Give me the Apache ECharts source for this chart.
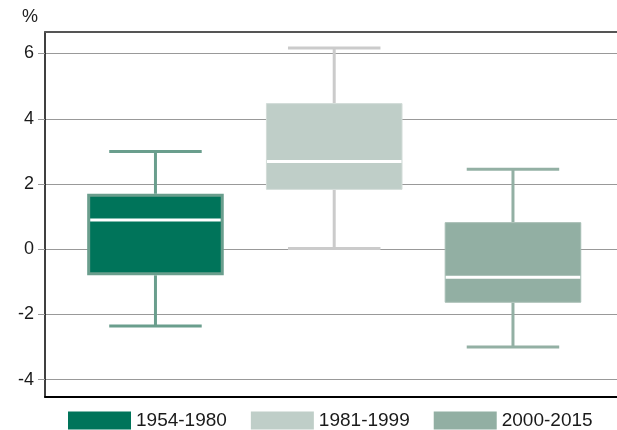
<!DOCTYPE html>
<html>
<head>
<meta charset="utf-8">
<script src="https://cdn.jsdelivr.net/npm/echarts@6/dist/echarts.min.js"></script>
<style>
  html, body { margin: 0; padding: 0; background: #ffffff; }
  #chart { width: 617px; height: 430px; }
</style>
</head>
<body>
<div id="chart"></div>
<script>
// Distribution of annual values per period (%)
const periods = ['1954-1980', '1981-1999', '2000-2015'];
const lowValues = [-2.35, 0.02, -3.0];
const q1Values = [-0.80, 1.82, -1.64];
const medianValues = [0.90, 2.69, -0.86];
const q3Values = [1.70, 4.48, 0.83];
const highValues = [3.0, 6.17, 2.45];
const yTickValues = [-4, -2, 0, 2, 4, 6];

const fillColors = ['#00745a', '#bfcec8', '#92afa3'];
const edgeColors = ['#6a9e8d', '#d2dcd8', '#a5bcb2'];
const edgeWidths = [3, 1, 1];
const whiskerColors = ['#6a9e8d', '#cbcbcb', '#93b0a4'];

const FONT = "'Liberation Sans', Arial, Helvetica, sans-serif";

function makeRenderer(k) {
  return function (params, api) {
    const x = api.value(0);
    const low = api.value(1), q1 = api.value(2), med = api.value(3), q3 = api.value(4), high = api.value(5);
    const band = api.size([1, 0])[0];
    const boxHalf = band * 0.382;
    const capHalf = band * 0.2587;
    const cx = api.coord([x, med])[0];
    const yLow = api.coord([x, low])[1];
    const yQ1 = api.coord([x, q1])[1];
    const yMed = api.coord([x, med])[1];
    const yQ3 = api.coord([x, q3])[1];
    const yHigh = api.coord([x, high])[1];
    const lw = edgeWidths[k];
    const whisker = { stroke: whiskerColors[k], lineWidth: 3 };
    return {
      type: 'group',
      children: [
        { type: 'line', shape: { x1: cx, y1: yHigh, x2: cx, y2: yQ3 }, style: whisker },
        { type: 'line', shape: { x1: cx, y1: yQ1, x2: cx, y2: yLow }, style: whisker },
        { type: 'line', shape: { x1: cx - capHalf, y1: yHigh, x2: cx + capHalf, y2: yHigh }, style: whisker },
        { type: 'line', shape: { x1: cx - capHalf, y1: yLow, x2: cx + capHalf, y2: yLow }, style: whisker },
        {
          type: 'rect',
          shape: { x: cx - boxHalf + lw / 2, y: yQ3 + lw / 2, width: 2 * boxHalf - lw, height: yQ1 - yQ3 - lw },
          style: { fill: fillColors[k], stroke: edgeColors[k], lineWidth: lw }
        },
        {
          type: 'line',
          shape: { x1: cx - boxHalf + lw, y1: yMed, x2: cx + boxHalf - lw, y2: yMed },
          style: { stroke: '#ffffff', lineWidth: 3 }
        }
      ]
    };
  };
}

const series = periods.map(function (name, k) {
  return {
    name: name,
    type: 'custom',
    xAxisIndex: 0,
    yAxisIndex: 0,
    itemStyle: { color: fillColors[k] },
    encode: { x: 0, y: [1, 2, 3, 4, 5] },
    data: [[k, lowValues[k], q1Values[k], medianValues[k], q3Values[k], highValues[k]]],
    renderItem: makeRenderer(k),
    silent: true
  };
});

const xBase = {
  type: 'value',
  min: -0.618,
  max: 2.582,
  axisTick: { show: false },
  axisLabel: { show: false },
  splitLine: { show: false }
};

const chart = echarts.init(document.getElementById('chart'), null, { renderer: 'canvas' });
chart.setOption({
  animation: false,
  backgroundColor: '#ffffff',
  textStyle: { fontFamily: FONT },
  grid: { left: 45, right: 0, top: 32, bottom: 33, containLabel: false },
  xAxis: [
    Object.assign({}, xBase, { position: 'bottom', axisLine: { show: true, onZero: false, lineStyle: { color: '#000000', width: 2 } } }),
    Object.assign({}, xBase, { position: 'top', axisLine: { show: true, onZero: false, lineStyle: { color: '#555555', width: 2 } } })
  ],
  yAxis: {
    type: 'value',
    min: -4.53,
    max: 6.66,
    name: '%',
    nameLocation: 'end',
    nameGap: 6,
    nameTextStyle: { fontSize: 18, color: '#222222', align: 'right', padding: [0, 7, 0, 0], fontFamily: FONT },
    axisLine: { show: true, onZero: false, lineStyle: { color: '#000000', width: 1.5 } },
    axisTick: { show: true, length: 7, customValues: yTickValues, lineStyle: { color: '#999999', width: 1 } },
    axisLabel: { customValues: yTickValues, fontSize: 18, color: '#1a1a1a', margin: 11, fontFamily: FONT },
    splitLine: { show: true, lineStyle: { color: '#999999', width: 1 } }
  },
  legend: {
    data: periods.map(function (name, k) { return { name: name, itemStyle: { color: fillColors[k] } }; }),
    left: 68,
    top: 411,
    padding: 0,
    icon: 'rect',
    itemWidth: 63,
    itemHeight: 18,
    itemGap: 24,
    selectedMode: false,
    textStyle: { fontSize: 19, color: '#1a1a1a', fontFamily: FONT }
  },
  series: series
});
</script>
</body>
</html>
